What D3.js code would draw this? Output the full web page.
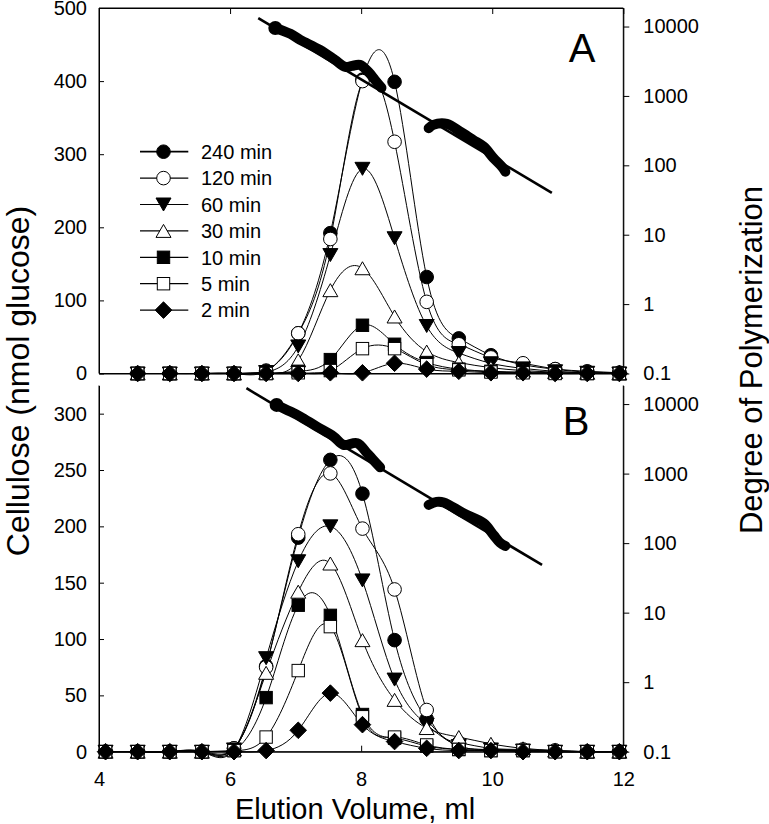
<!DOCTYPE html>
<html><head><meta charset="utf-8">
<script src="https://cdn.jsdelivr.net/npm/d3@7"></script>
<style>body{margin:0;background:#fff} text{font-family:"Liberation Sans",Arial,sans-serif;fill:#000}</style>
</head><body><svg id="c" width="769" height="824"></svg>
<script>
// ---------- data ----------
const xA = [4.59, 5.08, 5.57, 6.06, 6.55, 7.04, 7.53, 8.02, 8.51, 9.0, 9.49, 9.98, 10.47, 10.96, 11.45, 11.94];
const xB = [4.1, 4.59, 5.08, 5.57, 6.06, 6.55, 7.04, 7.53, 8.02, 8.51, 9.0, 9.49, 9.98, 10.47, 10.96, 11.45, 11.94];
const seriesNames = ["240 min", "120 min", "60 min", "30 min", "10 min", "5 min", "2 min"];
const markerTypes = ["circleF", "circleO", "triDownF", "triUpO", "squareF", "squareO", "diamondF"];

const a240 = [0, 0, 0, 0, 4, 55, 192, 402, 399, 132, 48, 25, 12, 6, 3, 1];
const a120 = [0, 0, 0, 0, 3, 55, 184, 400, 317, 98, 40, 22, 14, 6, 2, 1];
const a60  = [0, 0, 0, 0, 2, 37, 162, 280, 185, 65, 28, 14, 7, 3, 1, 0];
const a30  = [0, 0, 0, 0, 1, 18, 114, 144, 78, 30, 15, 8, 4, 2, 1, 0];
const a10  = [0, 0, 0, 0, 0, 3, 19, 66, 40, 15, 6, 3, 2, 1, 0, 0];
const a5   = [0, 0, 0, 0, 0, 1, 4, 34, 34, 12, 5, 2, 1, 0, 0, 0];
const a2   = [0, 0, 0, 0, 0, 0, 1, 1, 14, 6, 3, 1, 1, 0, 0, 0];

const b240 = [0, 0, 0, 0, 3, 76, 190, 259, 229, 99, 29, 5, 2, 1, 1, 0, 0];
const b120 = [0, 0, 0, 0, 3, 75, 193, 247, 198, 144, 37, 8, 3, 2, 1, 0, 0];
const b60  = [0, 0, 0, 0, 2, 83, 169, 200, 152, 64, 24, 5, 2, 1, 0, 0, 0];
const b30  = [0, 0, 0, 0, 2, 70, 142, 167, 99, 46, 21, 13, 7, 3, 1, 0, 0];
const b10  = [0, 0, 0, 0, 1, 48, 130, 121, 33, 12, 5, 2, 1, 1, 0, 0, 0];
const b5   = [0, 0, 0, 0, 1, 13, 72, 111, 31, 13, 6, 2, 1, 1, 0, 0, 0];
const b2   = [0, 0, 0, 0, 0, 1, 19, 52, 24, 9, 3, 1, 1, 0, 0, 0, 0];

// degree of polymerization: calibration lines and measured traces
const fitAx = [6.43, 10.91], fitAy = [13200, 40];
const fitBx = [6.25, 10.76], fitBy = [16900, 48.5];
const dpA1x = [6.69, 6.92, 7.07, 7.37, 7.60, 7.76, 7.86, 7.98, 8.11, 8.21, 8.31];
const dpA1y = [9550, 7850, 6430, 4610, 3310, 2620, 2710, 2800, 2220, 1700, 1310];
const dpA2x = [9.03, 9.10, 9.31, 9.51, 9.71, 9.87, 10.02, 10.15, 10.20];
const dpA2y = [343, 383, 396, 306, 232, 186, 127, 95, 81];
const dpB1x = [6.71, 6.92, 7.07, 7.32, 7.58, 7.73, 7.94, 8.09, 8.17, 8.29];
const dpB1y = [9730, 7800, 6610, 4750, 3410, 2590, 2740, 1970, 1630, 1230];
const dpB2x = [9.03, 9.15, 9.26, 9.56, 9.87, 10.02, 10.12, 10.20];
const dpB2y = [355, 392, 385, 269, 193, 131, 101, 91];

const xTicks = [4, 6, 8, 10, 12];
const yTicksA = [0, 100, 200, 300, 400, 500];
const yTicksB = [0, 50, 100, 150, 200, 250, 300];
const dpTicks = [0.1, 1, 10, 100, 1000, 10000];
const dpTickLabels = ["0.1", "1", "10", "100", "1000", "10000"];

// ---------- drawing ----------
const svg = d3.select("#c");
const L = 99, R = 623.3;
const x = d3.scaleLinear([4, 12], [L, R]);
const panels = [
  {top: 8, bottom: 373.5, ymax: 500, ticks: yTicksA, xs: xA, vals: [a240, a120, a60, a30, a10, a5, a2],
   fit: [fitAx, fitAy], traces: [[dpA1x, dpA1y], [dpA2x, dpA2y]], letter: "A", lx: 582, ly: 62, box: true},
  {top: 385.5, bottom: 751.7, ymax: 325, ticks: yTicksB, xs: xB, vals: [b240, b120, b60, b30, b10, b5, b2],
   fit: [fitBx, fitBy], traces: [[dpB1x, dpB1y], [dpB2x, dpB2y]], letter: "B", lx: 576, ly: 435, box: false}
];

function marker(g, type, cx, cy) {
  const filled = type.endsWith("F");
  const fill = filled ? "#000" : "#fff";
  let el;
  if (type.startsWith("circle")) {
    el = g.append("circle").attr("cx", cx).attr("cy", cy).attr("r", 6.8);
  } else if (type.startsWith("triDown")) {
    el = g.append("path").attr("d", `M${cx-7.5},${cy-6.5}L${cx+7.5},${cy-6.5}L${cx},${cy+6.5}Z`);
  } else if (type.startsWith("triUp")) {
    el = g.append("path").attr("d", `M${cx-7.5},${cy+6.5}L${cx+7.5},${cy+6.5}L${cx},${cy-6.5}Z`);
  } else if (type.startsWith("square")) {
    el = g.append("rect").attr("x", cx-6.2).attr("y", cy-6.2).attr("width", 12.4).attr("height", 12.4);
  } else {
    el = g.append("path").attr("d", `M${cx},${cy-8.3}L${cx+8.3},${cy}L${cx},${cy+8.3}L${cx-8.3},${cy}Z`);
  }
  el.attr("fill", fill).attr("stroke", "#000").attr("stroke-width", 1);
}

panels.forEach(p => {
  const y = d3.scaleLinear([0, p.ymax], [p.bottom, p.top]);
  const dp = d3.scaleLog([0.1, 18500], [p.bottom, p.top]);
  const g = svg.append("g");

  // axes
  const ax = g.append("g").attr("transform", `translate(${L},0)`)
    .call(d3.axisLeft(y).tickValues(p.ticks).tickSizeInner(-5).tickSizeOuter(0).tickPadding(12));
  const ar = g.append("g").attr("transform", `translate(${R},0)`)
    .call(d3.axisRight(dp).tickValues(dpTicks).tickFormat((d, i) => dpTickLabels[i]).tickSizeInner(6).tickSizeOuter(0).tickPadding(14));
  const ab = g.append("g").attr("transform", `translate(0,${p.bottom})`)
    .call(d3.axisBottom(x).tickValues(xTicks).tickSizeInner(-6).tickSizeOuter(0).tickPadding(20)
      .tickFormat(p.box ? () => "" : d3.format("d")));
  if (p.box) {
    g.append("g").attr("transform", `translate(0,${p.top})`)
      .call(d3.axisTop(x).tickValues(xTicks).tickSizeInner(-6).tickSizeOuter(0).tickFormat(() => ""));
  }
  [ax, ar, ab].forEach(a => {
    a.selectAll("text").attr("font-size", 20).attr("font-family", '"Liberation Sans",Arial,sans-serif');
    a.selectAll("path,line").attr("stroke", "#000").attr("stroke-width", 1);
  });
  g.selectAll(".domain").attr("stroke", "#000");

  // series curves
  const line = d3.line().x(d => x(d[0])).y(d => y(d[1])).curve(d3.curveNatural);
  p.vals.forEach((vals, si) => {
    const pts = p.xs.map((xv, i) => [xv, vals[i]]);
    g.append("path").attr("d", line(pts)).attr("fill", "none").attr("stroke", "#000").attr("stroke-width", 1);
  });
  p.vals.forEach((vals, si) => {
    const mg = g.append("g");
    p.xs.forEach((xv, i) => marker(mg, markerTypes[si], x(xv), y(vals[i])));
  });

  // DP calibration line and measured traces
  const dline = d3.line().x(d => x(d[0])).y(d => dp(d[1]));
  g.append("path").attr("d", dline(p.fit[0].map((v, i) => [v, p.fit[1][i]])))
    .attr("stroke", "#000").attr("stroke-width", 2.6).attr("fill", "none");
  const tline = d3.line().x(d => x(d[0])).y(d => dp(d[1])).curve(d3.curveCatmullRom);
  p.traces.forEach((t, ti) => {
    const pts = t[0].map((v, i) => [v, t[1][i]]);
    g.append("path").attr("d", tline(pts)).attr("stroke", "#000").attr("stroke-width", 10)
      .attr("stroke-linecap", "round").attr("stroke-linejoin", "round").attr("fill", "none");
    if (ti === 0) g.append("circle").attr("cx", x(pts[0][0])).attr("cy", dp(pts[0][1])).attr("r", 7).attr("fill", "#000");
  });

  // frame lines
  g.append("line").attr("x1", L).attr("x2", L).attr("y1", p.top).attr("y2", p.bottom).attr("stroke", "#000");
  g.append("line").attr("x1", R).attr("x2", R).attr("y1", p.top).attr("y2", p.bottom).attr("stroke", "#000");
  g.append("line").attr("x1", L).attr("x2", R).attr("y1", p.bottom).attr("y2", p.bottom).attr("stroke", "#000");
  if (p.box) g.append("line").attr("x1", L).attr("x2", R).attr("y1", p.top).attr("y2", p.top).attr("stroke", "#000");

  g.append("text").attr("x", p.lx).attr("y", p.ly).attr("text-anchor", "middle").attr("font-size", 40).text(p.letter);
});

// legend
const lg = svg.append("g");
seriesNames.forEach((name, i) => {
  const cy = 151.7 + i * 26.4;
  lg.append("line").attr("x1", 140).attr("x2", 188.3).attr("y1", cy).attr("y2", cy)
    .attr("stroke", "#000").attr("stroke-width", i === 0 ? 1.8 : 1.2);
  marker(lg, markerTypes[i], 163.5, cy);
  lg.append("text").attr("x", 201).attr("y", cy + 7.2).attr("font-size", 20).text(name);
});

// axis titles
svg.append("text").attr("transform", "translate(29,381) rotate(-90)").attr("text-anchor", "middle")
  .attr("font-size", 32).text("Cellulose (nmol glucose)");
svg.append("text").attr("transform", "translate(762,360) rotate(-90)").attr("text-anchor", "middle")
  .attr("font-size", 31).text("Degree of Polymerization");
svg.append("text").attr("x", 355).attr("y", 819).attr("text-anchor", "middle")
  .attr("font-size", 29).text("Elution Volume, ml");
</script></body></html>
